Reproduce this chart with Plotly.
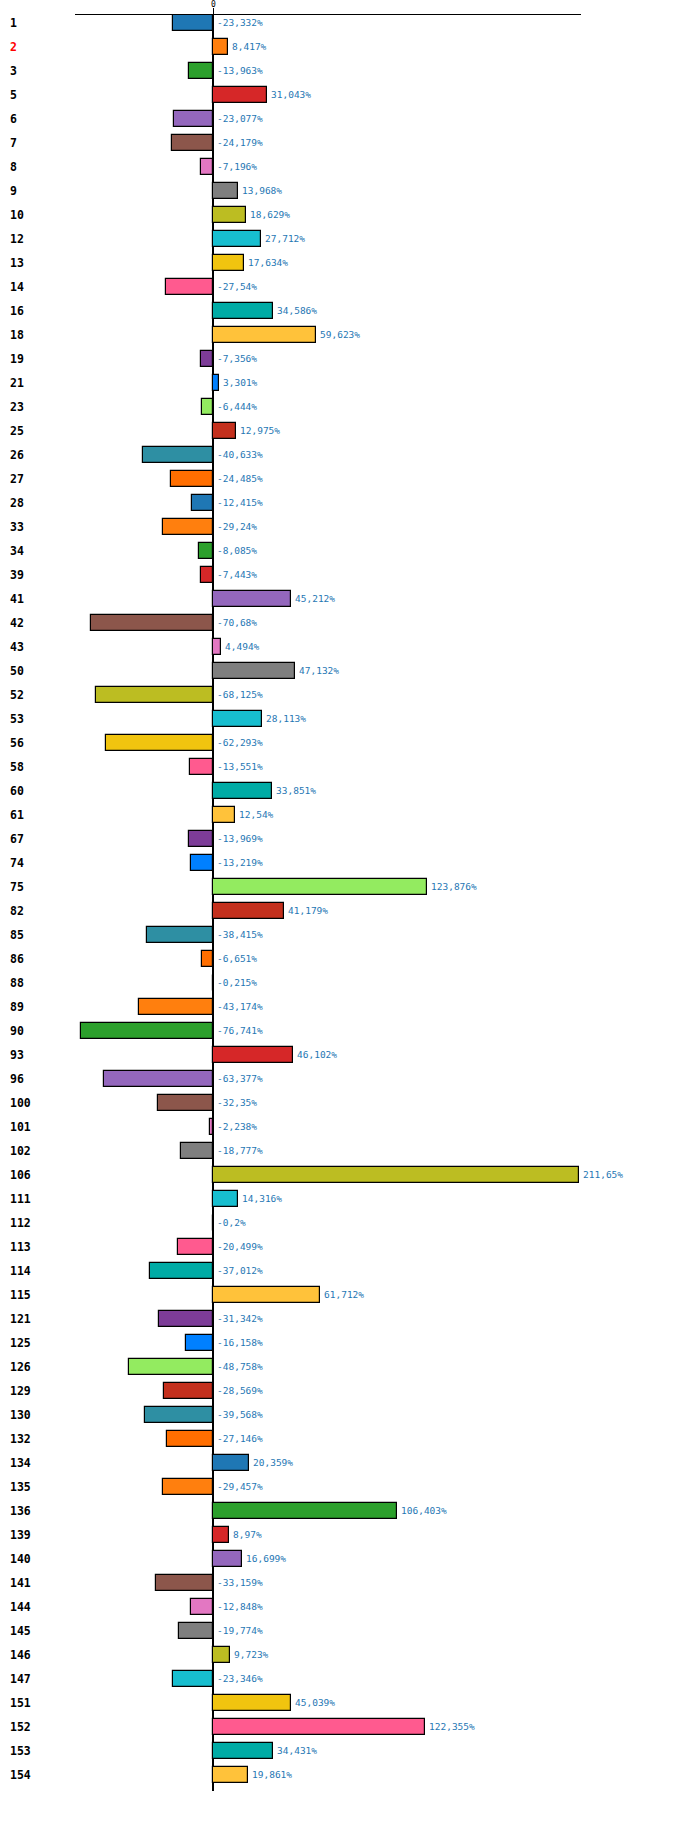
import plotly.graph_objects as go

# row labels, top to bottom
ids = ['1', '2', '3', '5', '6', '7', '8', '9', '10', '12', '13', '14', '16', '18', '19', '21', '23', '25',
       '26', '27', '28', '33', '34', '39', '41', '42', '43', '50', '52', '53', '56', '58', '60', '61', '67',
       '74', '75', '82', '85', '86', '88', '89', '90', '93', '96', '100', '101', '102', '106', '111', '112',
       '113', '114', '115', '121', '125', '126', '129', '130', '132', '134', '135', '136', '139', '140',
       '141', '144', '145', '146', '147', '151', '152', '153', '154']

# change in percent
change = [-23.332, 8.417, -13.963, 31.043, -23.077, -24.179, -7.196, 13.968, 18.629, 27.712, 17.634,
          -27.54, 34.586, 59.623, -7.356, 3.301, -6.444, 12.975, -40.633, -24.485, -12.415, -29.24,
          -8.085, -7.443, 45.212, -70.68, 4.494, 47.132, -68.125, 28.113, -62.293, -13.551, 33.851,
          12.54, -13.969, -13.219, 123.876, 41.179, -38.415, -6.651, -0.215, -43.174, -76.741, 46.102,
          -63.377, -32.35, -2.238, -18.777, 211.65, 14.316, -0.2, -20.499, -37.012, 61.712, -31.342,
          -16.158, -48.758, -28.569, -39.568, -27.146, 20.359, -29.457, 106.403, 8.97, 16.699, -33.159,
          -12.848, -19.774, 9.723, -23.346, 45.039, 122.355, 34.431, 19.861]

highlight = ['2']

palette = ['#1f77b4', '#ff7f0e', '#2ca02c', '#d62728', '#9467bd', '#8c564b', '#e377c2', '#7f7f7f',
           '#bcbd22', '#17becf', '#f1c40f', '#ff5a8f', '#00aba5', '#ffc23a', '#7d3c98', '#0080ff',
           '#93eb60', '#c4301d', '#2e8fa3', '#ff6e00']

rows = list(range(len(ids)))
bar_colors = [palette[i % len(palette)] for i in rows]
labels = [str(v).replace('.', ',') + '%' for v in change]

fig = go.Figure()

fig.add_trace(go.Bar(
    x=change,
    y=rows,
    orientation='h',
    width=0.64,
    marker=dict(color=bar_colors, line=dict(color='black', width=1.2)),
    hoverinfo='skip',
))

# value labels: right of the bar end, or right of zero for negatives
for i, v in enumerate(change):
    fig.add_annotation(
        x=max(v, 0), xref='x', xanchor='left', xshift=2,
        y=i, yref='y',
        text=labels[i],
        showarrow=False,
        font=dict(family='DejaVu Sans Mono', size=9.5, color='#1f77b4'),
    )

# row names, left aligned
for i, name in enumerate(ids):
    fig.add_annotation(
        x=-0.132, xref='paper', xanchor='left',
        y=i, yref='y',
        text='<b>' + name + '</b>',
        showarrow=False,
        font=dict(family='DejaVu Sans Mono', size=11.5,
                  color='red' if name in highlight else 'black'),
    )

fig.update_xaxes(
    side='top',
    range=[-80.2, 213],
    automargin=False,
    showline=True, linecolor='black', linewidth=1,
    showgrid=False,
    zeroline=True, zerolinecolor='black', zerolinewidth=2,
    tickvals=[0], ticktext=['0'],
    ticks='outside', ticklen=6, tickcolor='black',
    ticklabelstandoff=-2,
    tickfont=dict(family='DejaVu Sans Mono', size=8, color='black'),
)

fig.update_yaxes(
    range=[73.667, -0.333],
    automargin=False,
    showgrid=False, zeroline=False, showline=False,
    showticklabels=False, ticks='',
)

fig.update_layout(
    width=700, height=1821,
    margin=dict(l=75, r=119, t=15, b=30),
    showlegend=False,
    bargap=0,
    plot_bgcolor='white',
    paper_bgcolor='white',
)

# drop the default page margin so the figure sits at the window corner
fig.write_html('out.html', config={'displayModeBar': False},
               post_script="document.body.style.margin = '0';")
